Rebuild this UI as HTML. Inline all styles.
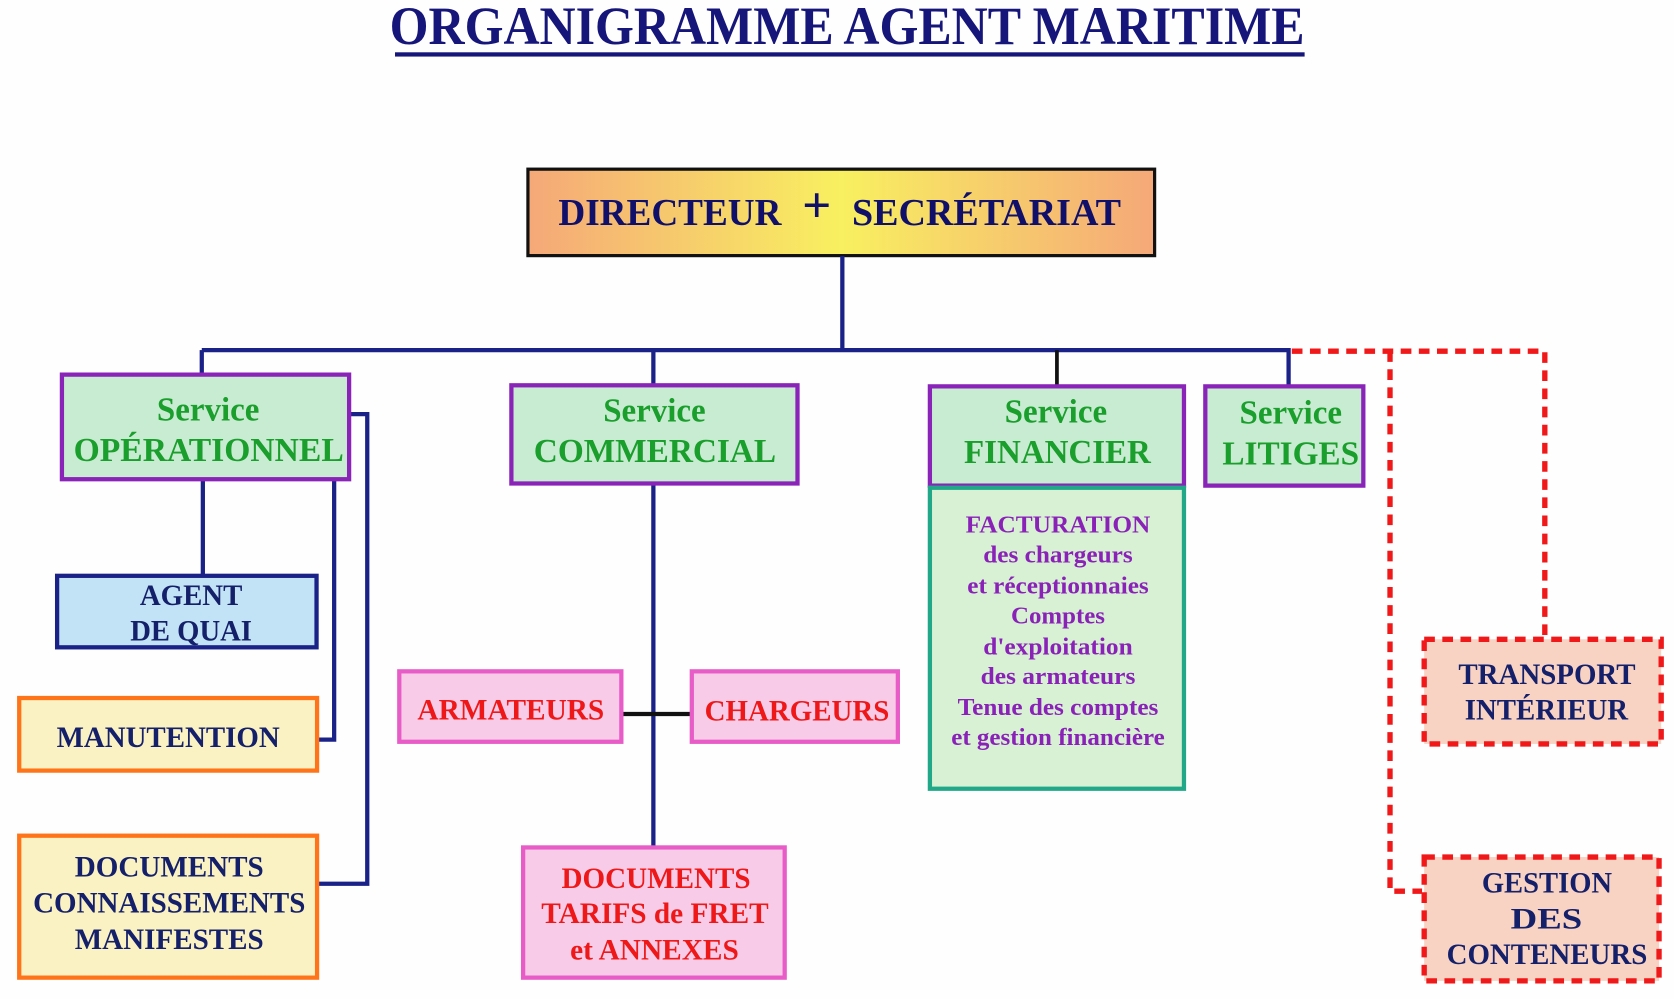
<!DOCTYPE html>
<html><head><meta charset="utf-8"><style>
html,body{margin:0;padding:0;background:#fff;}
svg{display:block;}
text{font-family:"Liberation Serif",serif;font-weight:bold;}
</style></head><body>
<svg width="1674" height="999" viewBox="0 0 1568 936" preserveAspectRatio="none" xmlns="http://www.w3.org/2000/svg">
<defs>
<linearGradient id="g1" x1="0" x2="1" y1="0" y2="0">
<stop offset="0" stop-color="#f5a878"/><stop offset="0.5" stop-color="#f8f060"/><stop offset="1" stop-color="#f5a878"/>
</linearGradient>
</defs>
<rect width="1568" height="936" fill="#fefefe"/>
<!-- title -->
<text x="365" y="41" font-size="51" fill="#15157a" textLength="857" lengthAdjust="spacingAndGlyphs">ORGANIGRAMME AGENT MARITIME</text>
<rect x="370" y="49" width="852" height="4" fill="#15157a"/>
<!-- director -->
<rect x="494.5" y="158.5" width="587" height="81" fill="url(#g1)" stroke="#111" stroke-width="3"/>
<text x="523" y="211" font-size="36" fill="#10106a" textLength="209" lengthAdjust="spacingAndGlyphs">DIRECTEUR</text>
<text x="765" y="208" font-size="48" fill="#10106a" text-anchor="middle">+</text>
<text x="798" y="211" font-size="36" fill="#10106a" textLength="252" lengthAdjust="spacingAndGlyphs">SECRÉTARIAT</text>
<!-- connectors -->
<g stroke="#1a2288" stroke-width="4" fill="none">
<path d="M789 240 V328"/>
<path d="M189 328 H1207 V361"/>
<path d="M189 328 V350"/>
<path d="M612 328 V360"/>
<path d="M190 450 V538"/>
<path d="M313 450 V693 H298"/>
<path d="M328 388 H344 V828 H298"/>
<path d="M612 454 V793"/>
</g>
<path d="M990 328 V361" stroke="#111" stroke-width="3.5"/>
<path d="M583 669 H647" stroke="#111" stroke-width="4"/>
<g stroke="#f01818" stroke-width="5" fill="none" stroke-dasharray="10 7">
<path d="M1210 329 H1447 V598"/>
<path d="M1302 329 V835 H1332"/>
</g>
<!-- service boxes -->
<g stroke="#8a24b8" stroke-width="4" fill="#c8ecd2">
<rect x="58" y="351" width="269" height="98"/>
<rect x="479" y="361" width="268" height="92"/>
<rect x="871" y="362" width="238" height="93"/>
<rect x="1129" y="362" width="148" height="93"/>
</g>
<g fill="#1a9e2c" font-size="32">
<text x="147" y="394" textLength="96" lengthAdjust="spacingAndGlyphs">Service</text>
<text x="69" y="432" textLength="253" lengthAdjust="spacingAndGlyphs">OPÉRATIONNEL</text>
<text x="565" y="395" textLength="96" lengthAdjust="spacingAndGlyphs">Service</text>
<text x="500" y="433" textLength="227" lengthAdjust="spacingAndGlyphs">COMMERCIAL</text>
<text x="941" y="396" textLength="96" lengthAdjust="spacingAndGlyphs">Service</text>
<text x="903" y="434" textLength="175" lengthAdjust="spacingAndGlyphs">FINANCIER</text>
<text x="1161" y="397" textLength="96" lengthAdjust="spacingAndGlyphs">Service</text>
<text x="1145" y="435" textLength="128" lengthAdjust="spacingAndGlyphs">LITIGES</text>
</g>
<!-- financier detail -->
<rect x="871" y="457" width="238" height="282" fill="#d8f0d4" stroke="#20a888" stroke-width="4"/>
<g fill="#8a22b8" font-size="23" text-anchor="middle">
<text x="991" y="499" textLength="173" lengthAdjust="spacingAndGlyphs">FACTURATION</text>
<text x="991" y="527" textLength="140" lengthAdjust="spacingAndGlyphs">des chargeurs</text>
<text x="991" y="556" textLength="170" lengthAdjust="spacingAndGlyphs">et réceptionnaies</text>
<text x="991" y="584" textLength="88" lengthAdjust="spacingAndGlyphs">Comptes</text>
<text x="991" y="613" textLength="140" lengthAdjust="spacingAndGlyphs">d'exploitation</text>
<text x="991" y="641" textLength="145" lengthAdjust="spacingAndGlyphs">des armateurs</text>
<text x="991" y="670" textLength="188" lengthAdjust="spacingAndGlyphs">Tenue des comptes</text>
<text x="991" y="698" textLength="200" lengthAdjust="spacingAndGlyphs">et gestion financière</text>
</g>
<!-- agent de quai -->
<rect x="53.5" y="539.5" width="243" height="67" fill="#c2e2f6" stroke="#1a2288" stroke-width="4"/>
<g fill="#15206a" font-size="28">
<text x="131" y="567" textLength="96" lengthAdjust="spacingAndGlyphs">AGENT</text>
<text x="122" y="600" textLength="114" lengthAdjust="spacingAndGlyphs">DE QUAI</text>
</g>
<!-- manutention / documents -->
<g stroke="#ff7418" stroke-width="4" fill="#fbf2c4">
<rect x="18" y="654" width="279" height="68"/>
<rect x="18" y="783" width="279" height="133"/>
</g>
<g fill="#15206a" font-size="28">
<text x="53" y="700" textLength="209" lengthAdjust="spacingAndGlyphs">MANUTENTION</text>
<text x="70" y="821" textLength="177" lengthAdjust="spacingAndGlyphs">DOCUMENTS</text>
<text x="31" y="855" textLength="255" lengthAdjust="spacingAndGlyphs">CONNAISSEMENTS</text>
<text x="70" y="889" textLength="177" lengthAdjust="spacingAndGlyphs">MANIFESTES</text>
</g>
<!-- commercial children -->
<g stroke="#e85cc8" stroke-width="4" fill="#f8cce8">
<rect x="374" y="629" width="208" height="66"/>
<rect x="648" y="629" width="193" height="66"/>
<rect x="490" y="794" width="245" height="122"/>
</g>
<g fill="#ee1818" font-size="28">
<text x="391" y="674" textLength="175" lengthAdjust="spacingAndGlyphs">ARMATEURS</text>
<text x="660" y="675" textLength="173" lengthAdjust="spacingAndGlyphs">CHARGEURS</text>
<text x="526" y="832" textLength="177" lengthAdjust="spacingAndGlyphs">DOCUMENTS</text>
<text x="507" y="865" textLength="213" lengthAdjust="spacingAndGlyphs">TARIFS de FRET</text>
<text x="534" y="899" textLength="158" lengthAdjust="spacingAndGlyphs">et ANNEXES</text>
</g>
<!-- right dashed boxes -->
<g stroke="#f01818" stroke-width="5" fill="#f8d2c2" stroke-dasharray="10 7">
<rect x="1334" y="599" width="222" height="98"/>
<rect x="1334" y="803" width="220" height="116"/>
</g>
<g fill="#15206a" font-size="28">
<text x="1366" y="641" textLength="166" lengthAdjust="spacingAndGlyphs">TRANSPORT</text>
<text x="1372" y="674" textLength="153" lengthAdjust="spacingAndGlyphs">INTÉRIEUR</text>
<text x="1388" y="836" textLength="122" lengthAdjust="spacingAndGlyphs">GESTION</text>
<text x="1415" y="870" textLength="67" lengthAdjust="spacingAndGlyphs">DES</text>
<text x="1355" y="903" textLength="188" lengthAdjust="spacingAndGlyphs">CONTENEURS</text>
</g>
</svg>
</body></html>
